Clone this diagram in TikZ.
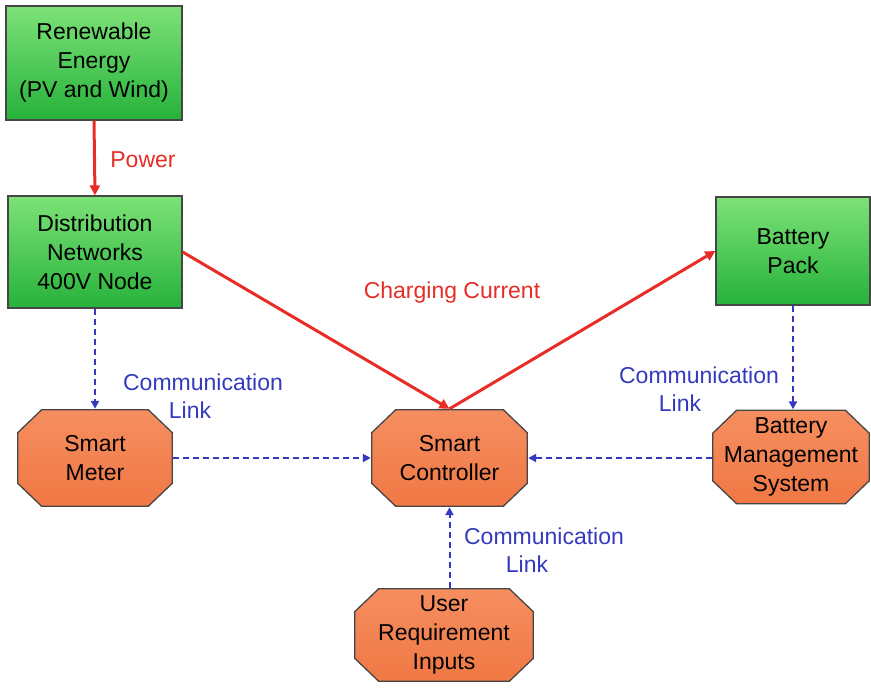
\documentclass[tikz,border=0pt]{standalone}
\usepackage{fontspec}
\setmainfont{Liberation Sans}
\usetikzlibrary{arrows.meta}
\definecolor{gtop}{RGB}{125,226,120}
\definecolor{gbot}{RGB}{38,178,58}
\definecolor{otop}{RGB}{246,142,96}
\definecolor{obot}{RGB}{240,120,68}
\definecolor{pwr}{RGB}{232,45,38}
\definecolor{comm}{RGB}{52,58,190}
\definecolor{edge}{RGB}{70,70,70}
\tikzset{
  txt/.style={font=\fontsize{23}{29}\selectfont, align=center, text=black},
  greenbox/.style={txt, draw=edge, line width=1.3pt, rectangle, top color=gtop, bottom color=gbot, inner sep=0pt},
  octbox/.style={txt, rectangle, draw=none, inner sep=0pt,
    path picture={
      \coordinate (nw) at ([shift={(0.7,0.7)}]path picture bounding box.north west);
      \coordinate (ne) at ([shift={(-0.7,0.7)}]path picture bounding box.north east);
      \coordinate (se) at ([shift={(-0.7,-0.7)}]path picture bounding box.south east);
      \coordinate (sw) at ([shift={(0.7,-0.7)}]path picture bounding box.south west);
      \shade[top color=otop, bottom color=obot, draw=edge, line width=1.3pt]
        ([xshift=24pt]nw) -- ([xshift=-24pt]ne) -- ([yshift=-23pt]ne) -- ([yshift=23pt]se)
        -- ([xshift=-24pt]se) -- ([xshift=24pt]sw) -- ([yshift=23pt]sw) -- ([yshift=-23pt]nw) -- cycle;
    }},
  powerline/.style={draw=pwr, line width=3pt, -{Triangle[length=10pt,width=10pt]}},
  commline/.style={draw=comm, line width=2pt, dash pattern=on 6pt off 4pt, -{Triangle[length=8pt,width=8pt]}},
  powerlabel/.style={font=\fontsize{23}{28}\selectfont, text=pwr},
  commlabel/.style={font=\fontsize{23}{28}\selectfont, text=comm, align=center},
}
\begin{document}
\begin{tikzpicture}[x=1pt,y=-1pt]
\useasboundingbox (0,0) rectangle (871,689);
\node[greenbox, minimum width=176pt, minimum height=114pt] (renew) at (94,63) {Renewable\\Energy\\(PV and Wind)};
\node[greenbox, minimum width=174pt, minimum height=112pt] (dist) at (95,252) {Distribution\\Networks\\400V Node};
\node[greenbox, minimum width=154pt, minimum height=108pt] (batt) at (793,251) {Battery\\Pack};
\node[octbox, minimum width=156pt, minimum height=98pt] (meter) at (95,458) {Smart\\Meter};
\node[octbox, minimum width=157pt, minimum height=98pt] (ctrl) at (449.5,458) {Smart\\Controller};
\node[octbox, minimum width=158pt, minimum height=95pt] (bms) at (791,457) {Battery\\Management\\System};
\node[octbox, minimum width=180pt, minimum height=94pt] (user) at (444,635) {User\\Requirement\\Inputs};

\draw[powerline] (renew.south) -- (dist.north);
\draw[powerline] (dist.east) -- (ctrl.north);
\draw[powerline] (ctrl.north) -- (batt.west);

\draw[commline] (dist.south) -- (meter.north);
\draw[commline] (meter.east) -- (ctrl.west);
\draw[commline] (bms.west |- ctrl.east) -- (ctrl.east);
\draw[commline] (batt.south) -- (batt.south |- bms.north);
\draw[commline] (user.north -| ctrl.south) -- (ctrl.south);

\node[powerlabel] (lpower) at (143,160) {Power};
\node[powerlabel] (lcharge) at (452,293) {Charging Current};
\node[commlabel] (lc1) at (203,396) {Communication\\Link\hspace*{26pt}};
\node[commlabel] (lc2) at (699,389) {Communication\\Link\hspace*{38pt}};
\node[commlabel] (lc3) at (544,550) {Communication\\Link\hspace*{34pt}};
\end{tikzpicture}
\end{document}
